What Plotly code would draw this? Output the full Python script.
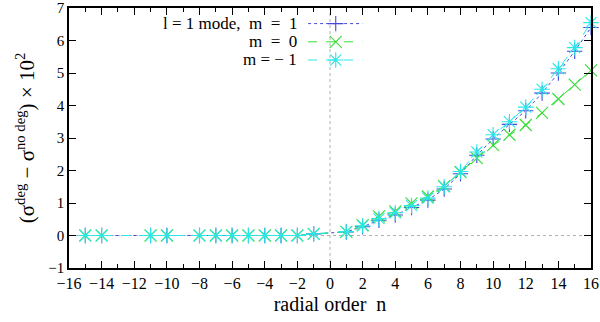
import plotly.graph_objects as go

# radial orders
n_neg = [-15, -14, -11, -10, -8, -7, -6, -5, -4, -3, -2, -1]
n_pos = list(range(1, 17))

# values on the negative side (all three modes overlap)
y_neg = [0.0, 0.0, 0.0, 0.0, 0.0, 0.0, 0.0, 0.0, 0.0, 0.0, 0.0, 0.05]

# positive side, per azimuthal order m
y_m1 = [0.11, 0.27, 0.47, 0.63, 0.86, 1.09, 1.43, 1.9, 2.47, 2.97, 3.42, 3.84, 4.38, 5.0, 5.67, 6.4]
y_m0 = [0.11, 0.32, 0.59, 0.74, 0.99, 1.2, 1.52, 1.95, 2.38, 2.78, 3.1, 3.4, 3.77, 4.2, 4.64, 5.08]
y_mm1 = [0.12, 0.3, 0.52, 0.7, 0.92, 1.15, 1.5, 1.97, 2.57, 3.1, 3.5, 3.95, 4.5, 5.13, 5.78, 6.55]

labels = ["l = 1 mode,  m  =  1", "m  =  0", "m = \u2212 1"]
colors = ["#4646e0", "#33dd33", "#2ae6e6"]
dashes = ["dot", "dash", "dash"]
symbols = ["cross-thin", "x-thin", "asterisk"]
sizes = [11, 12, 13]

x_all = n_neg + n_pos
series = [y_neg + y_m1, y_neg + y_m0, y_neg + y_mm1]

FONT = "Liberation Serif"

fig = go.Figure()

for ys, c, d, s, sz in zip(series, colors, dashes, symbols, sizes):
    fig.add_trace(go.Scatter(
        x=x_all, y=ys, mode="lines+markers",
        line=dict(color=c, width=1, dash=d),
        marker=dict(symbol=s, size=sz, color=c, line=dict(color=c, width=1.1)),
        showlegend=False, cliponaxis=False,
    ))

# gnuplot-style key: text right aligned, then sample
key_y = [0.94, 0.87, 0.80]
for lab, c, d, s, sz, ky in zip(labels, colors, dashes, symbols, sizes, key_y):
    fig.add_trace(go.Scatter(
        x=[0.458, 0.511, 0.562], y=[ky, ky, ky], mode="lines",
        line=dict(color=c, width=1, dash=d),
        xaxis="x2", yaxis="y2", showlegend=False, hoverinfo="skip",
    ))
    fig.add_trace(go.Scatter(
        x=[0.511], y=[ky], mode="markers",
        marker=dict(symbol=s, size=sz, color=c, line=dict(color=c, width=1.1)),
        xaxis="x2", yaxis="y2", showlegend=False, hoverinfo="skip",
    ))
    fig.add_annotation(
        x=0.44, y=ky, xref="paper", yref="paper", text=lab, showarrow=False,
        xanchor="right", yanchor="middle", font=dict(family=FONT, size=17, color="black"),
    )

# zero axes, dotted
fig.add_shape(type="line", x0=0, x1=0, y0=0, y1=1, xref="x", yref="paper",
              line=dict(color="#b0b0b0", width=1, dash="dot"), layer="below")
fig.add_shape(type="line", x0=0, x1=1, y0=0, y1=0, xref="paper", yref="y",
              line=dict(color="#b0b0b0", width=1, dash="dot"), layer="below")

axis_common = dict(
    showgrid=False, zeroline=False, showline=True, linecolor="black", linewidth=1.5,
    mirror="allticks", ticks="inside", tickcolor="black", automargin=False,
)

fig.update_layout(
    width=600, height=322,
    margin=dict(l=69, r=9, t=8, b=54),
    plot_bgcolor="white", paper_bgcolor="white",
    font=dict(family=FONT, color="black"),
    xaxis=dict(range=[-16, 16], tickmode="array",
               tickvals=list(range(-16, 17, 2)),
               ticktext=[("\u2212" + str(-v)) if v < 0 else str(v) for v in range(-16, 17, 2)],
               ticklen=7, tickfont=dict(family=FONT, size=16, color="black"),
               minor=dict(dtick=1, ticks="inside", ticklen=4, tickcolor="black"),
               title=dict(text="radial order  n", font=dict(family=FONT, size=20), standoff=6),
               **axis_common),
    yaxis=dict(range=[-1, 7], tickmode="array", tickvals=list(range(-1, 8)),
               ticktext=[("\u2212" + str(-v)) if v < 0 else str(v) for v in range(-1, 8)],
               ticklen=7, tickfont=dict(family=FONT, size=15, color="black"),
               title=dict(text="(\u03c3<sup>deg</sup> \u2212 \u03c3<sup>no deg</sup>) \u00d7 10<sup>2</sup>",
                          font=dict(family=FONT, size=21), standoff=8),
               **axis_common),
    xaxis2=dict(range=[0, 1], domain=[0, 1], overlaying="x", visible=False, fixedrange=True),
    yaxis2=dict(range=[0, 1], domain=[0, 1], overlaying="y", visible=False, fixedrange=True, anchor="x2"),
)

fig.write_html("out.html", config={"displayModeBar": False},
               post_script="document.body.style.margin='0px';")
